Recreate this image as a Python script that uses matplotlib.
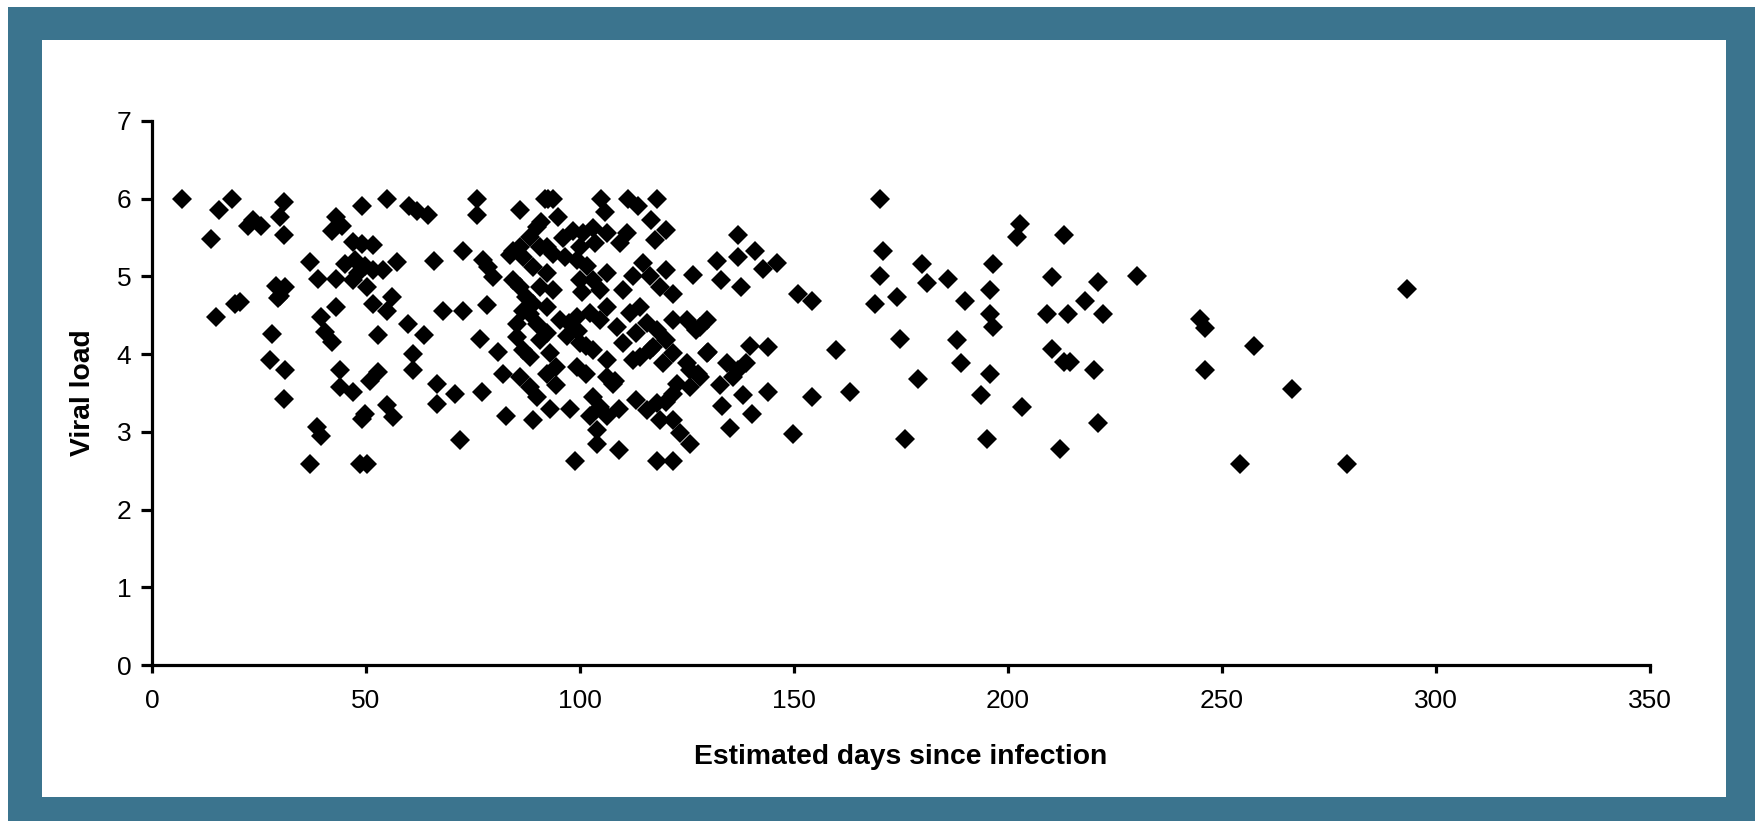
import matplotlib
matplotlib.use("Agg")
import matplotlib.pyplot as plt
from matplotlib.patches import Rectangle

# ---- data ----
days = [
    6.9, 15.7, 18.8, 13.7, 22.5, 23.7, 25.5, 30.8, 29.9, 30.8, 36.9, 38.9, 43.1, 43.1, 42.0, 44.5,
    47.0, 49.0, 51.7, 49.0, 54.8, 60.0, 62.0, 64.6, 65.9,
    45.1, 47.4, 49.8, 48.2, 47.0, 50.2, 51.7, 54.0, 57.2,
    29.0, 31.0, 30.0, 29.5, 19.4, 20.6, 15.0, 28.0, 27.6, 31.1, 30.8, 38.5, 39.6, 36.9, 48.6, 50.2,
    39.6, 43.1, 40.4, 42.0, 43.9, 43.9, 47.0, 50.9, 52.9, 49.0, 49.8, 54.8, 56.4, 51.7, 54.8, 56.0,
    52.9, 59.9, 63.6, 60.9, 60.9, 66.5, 66.5,
    76.0, 76.0, 86.0, 91.8, 93.8, 72.7, 77.4, 78.6, 83.6, 86.0, 88.3, 79.7, 84.4, 86.0, 89.0, 91.0,
    89.9, 84.4, 86.7, 78.2, 68.0, 72.7, 76.6, 80.9, 85.2, 86.7, 85.2, 88.3, 89.9, 89.0, 86.7, 88.3,
    82.1, 86.0, 88.3, 89.9, 70.8, 77.0, 82.8, 89.1, 72.0, 87.5,
    92.6, 94.9, 96.1, 105.0, 105.8, 111.3, 113.5, 117.9, 116.7, 120.2, 117.5, 109.3, 110.9,
    100.8, 100.0, 103.5, 106.2, 98.4, 103.1,
    99.2, 101.6, 100.0, 103.1, 104.7, 106.2,
    90.65, 92.2, 90.65, 93.8, 92.2, 93.8,
    114.8, 112.5, 116.4, 120.2, 126.5,
    118.7, 121.8, 110.1, 100.5,
    92.2, 95.3, 92.2, 96.9, 99.2, 102.3, 104.7,
    106.2, 108.6, 111.7, 114.0,
    113.2, 115.6, 117.9, 120.2, 121.8,
    124.9, 127.2, 129.6,
    100.0, 103.1, 106.2,
    110.1, 112.5, 116.4, 119.5, 121.8,
    124.9, 129.6, 134.3, 135.8,
    90.65, 93.0, 97.5, 99.5, 101.5, 96.5,
    92.2, 94.5, 99.2, 101.5, 106.2, 107.8, 114.0, 117.1, 125.7, 122.6, 125.7, 127.5, 121.8,
    131.9, 133.0,
    94.5, 93.0, 97.7, 103.1, 104.7, 102.3, 106.2, 103.9, 103.9, 109.0, 109.0, 108.2, 98.8,
    113.2, 115.6, 117.9, 120.2, 118.7, 121.8, 123.4, 125.7, 117.9, 121.8,
    132.7, 133.1, 135.0,
    170.1, 137.0, 140.9, 137.0, 142.8, 146.0,
    137.7, 151.0, 154.1, 170.8, 170.0, 168.9, 174.0, 179.8, 181.0, 186.0, 189.9, 196.5, 195.8,
    195.8, 196.5,
    129.9, 139.7, 144.0, 137.0, 138.9, 138.1, 144.0, 140.1, 159.9, 154.1, 163.0, 149.8, 174.7,
    179.0, 175.9, 188.0, 189.1, 193.8, 195.8, 195.0, 128.0, 128.0,
    202.8, 202.1, 213.0, 210.2, 221.1, 230.1, 218.0, 209.1, 214.1, 222.3, 210.2, 213.0, 214.5,
    220.0, 203.2, 221.1, 212.2, 244.9, 246.1, 257.4, 246.1, 266.3, 254.2, 279.2, 293.2,
]
viral_load = [
    6.0, 5.86, 6.0, 5.48, 5.65, 5.72, 5.65, 5.96, 5.76, 5.53, 5.18, 4.97, 4.97, 5.76, 5.59, 5.65,
    5.44, 5.42, 5.40, 5.91, 6.0, 5.9, 5.84, 5.79, 5.2,
    5.16, 5.21, 5.14, 5.05, 4.95, 4.86, 5.08, 5.08, 5.18,
    4.88, 4.86, 4.75, 4.72, 4.65, 4.67, 4.48, 4.26, 3.92, 3.79, 3.42, 3.06, 2.95, 2.59, 2.59, 2.59,
    4.48, 4.61, 4.28, 4.15, 3.79, 3.58, 3.51, 3.66, 3.77, 3.17, 3.23, 3.34, 3.19, 4.65, 4.56, 4.73,
    4.24, 4.39, 4.25, 4.0, 3.79, 3.62, 3.36,
    6.0, 5.79, 5.86, 6.0, 6.0, 5.33, 5.21, 5.12, 5.27, 5.38, 5.51, 4.99, 4.95, 4.86, 5.12, 5.7,
    5.64, 5.33, 5.25, 4.63, 4.56, 4.56, 4.2, 4.03, 4.39, 4.56, 4.22, 4.52, 4.39, 4.65, 4.05, 3.96,
    3.75, 3.7, 3.58, 3.45, 3.49, 3.51, 3.21, 3.15, 2.89, 4.73,
    6.0, 5.77, 5.49, 6.0, 5.83, 6.0, 5.9, 6.0, 5.73, 5.6, 5.47, 5.43, 5.56,
    5.56, 5.38, 5.43, 5.56, 5.59, 5.62,
    5.21, 5.13, 4.95, 4.95, 4.83, 5.04,
    5.38, 5.04, 4.87, 4.83, 5.38, 5.29,
    5.17, 5.0, 5.0, 5.08, 5.02,
    4.87, 4.78, 4.83, 4.8,
    4.61, 4.44, 4.27, 4.23, 4.48, 4.53, 4.44,
    4.61, 4.35, 4.53, 4.61,
    4.27, 4.4, 4.31, 4.18, 4.44,
    4.44, 4.31, 4.44,
    4.14, 4.05, 3.93,
    4.14, 3.93, 4.05, 3.88, 4.01,
    3.88, 4.01, 3.88, 3.71,
    4.18, 4.01, 4.4, 4.3, 4.1, 5.25,
    3.75, 3.83, 3.83, 3.75, 3.7, 3.62, 3.96, 4.09, 3.79, 3.62, 3.58, 3.75, 3.49,
    5.2, 4.96,
    3.6, 3.3, 3.3, 3.45, 3.32, 3.2, 3.2, 3.02, 2.85, 3.3, 2.77, 3.65, 2.62,
    3.41, 3.28, 3.37, 3.39, 3.15, 3.15, 2.98, 2.85, 2.62, 2.62,
    3.6, 3.33, 3.05,
    6.0, 5.53, 5.33, 5.25, 5.1, 5.17,
    4.86, 4.78, 4.69, 5.33, 5.01, 4.65, 4.73, 5.16, 4.91, 4.97, 4.69, 5.16, 4.82,
    4.52, 4.35,
    4.03, 4.11, 4.09, 3.79, 3.88, 3.47, 3.51, 3.23, 4.05, 3.45, 3.51, 2.97, 4.2,
    3.68, 2.91, 4.18, 3.88, 3.47, 3.75, 2.91, 4.35, 3.7,
    5.68, 5.51, 5.53, 4.99, 4.93, 5.01, 4.69, 4.52, 4.52, 4.52, 4.07, 3.9, 3.9,
    3.79, 3.32, 3.12, 2.78, 4.45, 4.33, 4.11, 3.79, 3.55, 2.59, 2.59, 4.84,
]
x_ticks = [0, 50, 100, 150, 200, 250, 300, 350]
y_ticks = [0, 1, 2, 3, 4, 5, 6, 7]
x_label = "Estimated days since infection"
y_label = "Viral load"

plt.rcParams['font.family'] = ['Liberation Sans', 'DejaVu Sans']

W, H = 1756, 821
fig = plt.figure(figsize=(W / 100, H / 100), dpi=100)
fig.patch.set_facecolor('white')

teal = '#3b748e'
fig.add_artist(Rectangle((8 / W, 0), 1 - 8 / W, (H - 7) / H, transform=fig.transFigure,
                         facecolor=teal, edgecolor='none', zorder=0))
fig.add_artist(Rectangle((42 / W, (H - 797) / H), (1726 - 42) / W, (797 - 40) / H,
                         transform=fig.transFigure, facecolor='white', edgecolor='none', zorder=0))

ax_l, ax_r, ax_t, ax_b = 152, 1650, 121, 665
ax = fig.add_axes([ax_l / W, (H - ax_b) / H, (ax_r - ax_l) / W, (ax_b - ax_t) / H])
ax.set_facecolor('none')

ax.plot(days, viral_load, linestyle='none', marker='D', markersize=10.6,
        color='black', markeredgewidth=0, clip_on=False, zorder=3)

ax.set_xlim(0, 350)
ax.set_ylim(0, 7)
ax.set_xticks(x_ticks)
ax.set_yticks(y_ticks)

for s in ['top', 'right']:
    ax.spines[s].set_visible(False)
for s in ['left', 'bottom']:
    ax.spines[s].set_linewidth(2.3)
    ax.spines[s].set_color('black')

ax.tick_params(axis='y', direction='out', length=8, width=2.3, labelsize=19, pad=7, colors='black')
ax.tick_params(axis='x', direction='out', length=6, width=2.3, labelsize=19, pad=11, colors='black')

ax.set_xlabel(x_label, fontsize=20.3, fontweight='bold')
ax.xaxis.set_label_coords(0.5, (ax_b - 757) / (ax_b - ax_t))
ax.xaxis.label.set_verticalalignment('center')
ax.set_ylabel(y_label, fontsize=20.3, fontweight='bold')
ax.yaxis.set_label_coords((83 - ax_l) / (ax_r - ax_l), 0.5)
ax.yaxis.label.set_verticalalignment('center')

fig.savefig('out.png', dpi=100, facecolor=fig.get_facecolor())
